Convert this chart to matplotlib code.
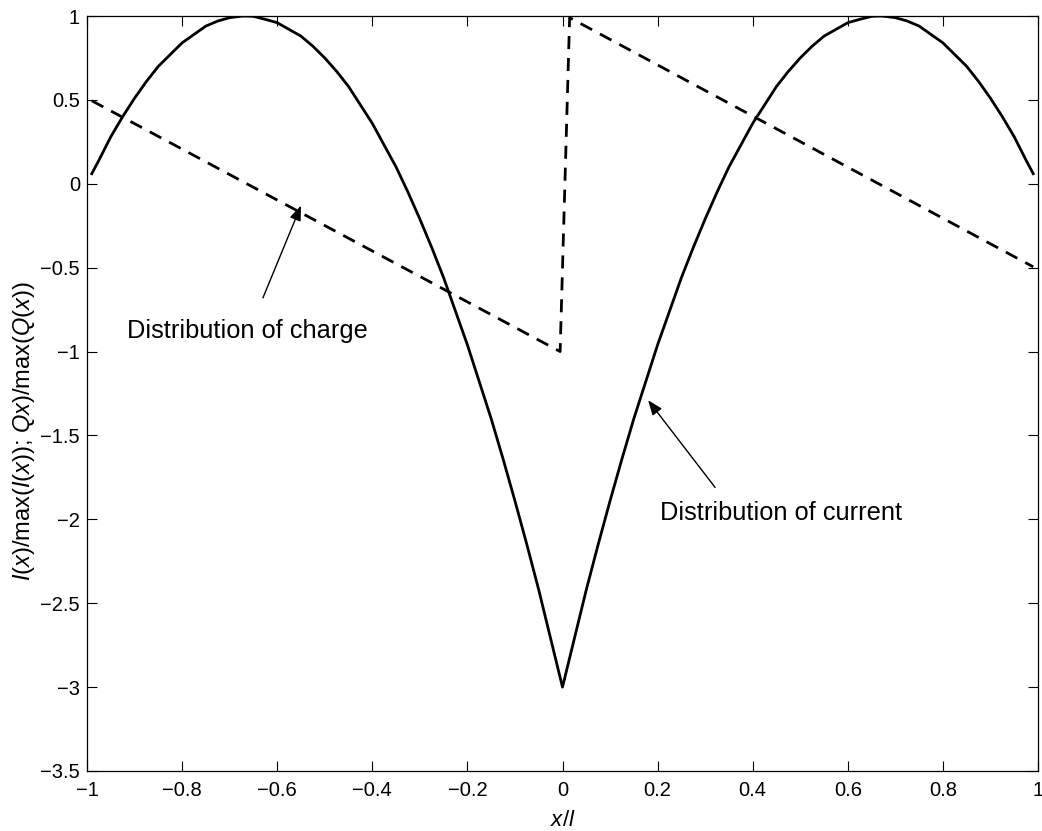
import numpy as np
import matplotlib
matplotlib.use("Agg")
import matplotlib.pyplot as plt

plt.rcParams['font.family'] = ['Liberation Sans', 'DejaVu Sans']
plt.rcParams['mathtext.fontset'] = 'custom'
plt.rcParams['mathtext.rm'] = 'Liberation Sans'
plt.rcParams['mathtext.it'] = 'Liberation Sans:italic'

# current distribution
x_cur = [-0.99, -0.975, -0.95, -0.925, -0.90, -0.875, -0.85, -0.825, -0.80, -0.775,
         -0.75, -0.725, -0.70, -0.675, -0.667, -0.65, -0.625, -0.60, -0.575, -0.55,
         -0.525, -0.50, -0.475, -0.45, -0.425, -0.40, -0.375, -0.35, -0.325, -0.30,
         -0.275, -0.25, -0.225, -0.20, -0.175, -0.15, -0.125, -0.10, -0.075, -0.05,
         -0.025, 0.0, 0.025, 0.05, 0.075, 0.10, 0.125, 0.15, 0.175, 0.20,
         0.225, 0.25, 0.275, 0.30, 0.325, 0.35, 0.375, 0.40, 0.425, 0.45,
         0.475, 0.50, 0.525, 0.55, 0.575, 0.60, 0.625, 0.65, 0.667, 0.675,
         0.70, 0.725, 0.75, 0.775, 0.80, 0.825, 0.85, 0.875, 0.90, 0.925,
         0.95, 0.975, 0.99]
i_cur = [0.06, 0.14, 0.28, 0.40, 0.51, 0.61, 0.70, 0.77, 0.84, 0.89,
         0.94, 0.97, 0.99, 0.999, 1.00, 0.998, 0.98, 0.96, 0.92, 0.88,
         0.82, 0.75, 0.67, 0.58, 0.47, 0.36, 0.23, 0.10, -0.05, -0.21,
         -0.38, -0.56, -0.76, -0.96, -1.18, -1.40, -1.64, -1.89, -2.15, -2.42,
         -2.71, -3.00, -2.71, -2.42, -2.15, -1.89, -1.64, -1.40, -1.18, -0.96,
         -0.76, -0.56, -0.38, -0.21, -0.05, 0.10, 0.23, 0.36, 0.47, 0.58,
         0.67, 0.75, 0.82, 0.88, 0.92, 0.96, 0.98, 0.998, 1.00, 0.999,
         0.99, 0.97, 0.94, 0.89, 0.84, 0.77, 0.70, 0.61, 0.51, 0.40,
         0.28, 0.14, 0.06]

# charge distribution (dashed), piecewise straight
x_chg = [-0.99, -0.005, 0.015, 0.99]
q_chg = [0.495, -1.0, 0.99, -0.495]

xticks = [-1, -0.8, -0.6, -0.4, -0.2, 0, 0.2, 0.4, 0.6, 0.8, 1]
xtick_labels = ['\u22121', '\u22120.8', '\u22120.6', '\u22120.4', '\u22120.2',
                '0', '0.2', '0.4', '0.6', '0.8', '1']
yticks = [-3.5, -3, -2.5, -2, -1.5, -1, -0.5, 0, 0.5, 1]
ytick_labels = ['\u22123.5', '\u22123', '\u22122.5', '\u22122', '\u22121.5',
                '\u22121', '\u22120.5', '0', '0.5', '1']

fig = plt.figure(figsize=(10.42, 8.31), dpi=100)
ax = fig.add_axes([87/1042, 60/831, 951/1042, 755/831])

ax.plot(x_cur, i_cur, color='black', lw=2.0)
ax.plot(x_chg, q_chg, color='black', lw=2.0, dashes=(4.7, 3.2))

ax.set_xlim(-1, 1)
ax.set_ylim(-3.5, 1)
ax.set_xticks(xticks)
ax.set_xticklabels(xtick_labels)
ax.set_yticks(yticks)
ax.set_yticklabels(ytick_labels)
ax.tick_params(direction='in', length=7, width=0.8, labelsize=14.5,
               top=True, right=True)
ax.tick_params(axis='x', pad=7)
ax.tick_params(axis='y', pad=5)
for s in ax.spines.values():
    s.set_linewidth(0.9)

ax.set_xlabel(r'$x/l$', fontsize=16)
ax.xaxis.set_label_coords(0.5, -0.052)
ax.set_ylabel(r'$I(x)$/max$(I(x))$; $Qx)$/max$(Q(x))$', fontsize=17)
ax.yaxis.set_label_coords(-0.053, 0.45)

arrow = dict(arrowstyle='-|>,head_length=0.9,head_width=0.35', color='black',
             lw=1.0, shrinkA=0, shrinkB=0)
ax.annotate('', xy=(-0.55, -0.13), xytext=(-0.63, -0.68), arrowprops=arrow)
ax.text(-0.916, -0.876, 'Distribution of charge', fontsize=18.3, va='center', ha='left')

ax.annotate('', xy=(0.18, -1.29), xytext=(0.321, -1.81), arrowprops=arrow)
ax.text(0.205, -1.96, 'Distribution of current', fontsize=18.3, va='center', ha='left')

fig.savefig('out.png', dpi=100)
